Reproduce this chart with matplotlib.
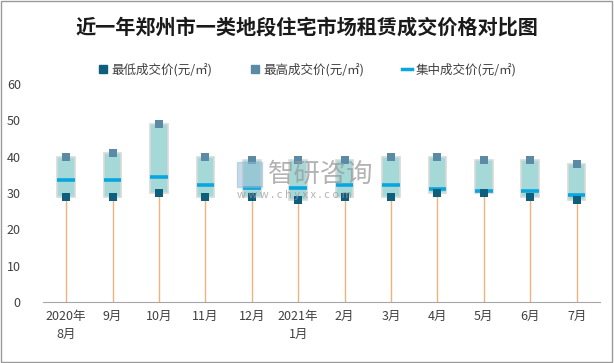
import matplotlib.pyplot as plt
import matplotlib.patches as mpatches
from matplotlib.lines import Line2D
import numpy as np

plt.rcParams['font.family'] = ['Noto Sans CJK SC', 'DejaVu Sans']

# 数据
months = ['2020年\n8月', '9月', '10月', '11月', '12月', '2021年\n1月',
          '2月', '3月', '4月', '5月', '6月', '7月']
low = [29, 29, 30, 29, 29, 28, 29, 29, 30, 30, 29, 28]
high = [40, 41, 49, 40, 39, 39, 39, 40, 40, 39, 39, 38]
mid = [33.5, 33.5, 34.3, 32.3, 31.3, 31.3, 32.3, 32.3, 31.2, 30.4, 30.4, 29.4]

c_low = '#0e5f7e'
c_high = '#5a8aa6'
c_mid = '#0aa6df'
c_box = '#a5d9d8'
c_stem = '#f2b27c'

fig = plt.figure(figsize=(6.14, 3.63), dpi=100)
ax = fig.add_axes([0.070, 0.168, 0.907, 0.601])

x = np.arange(len(months))
w = 0.38
low = np.array(low)
high = np.array(high)

ax.vlines(x, 0, low, color=c_stem, lw=1.0, zorder=1)
ax.bar(x, high - low, bottom=low, width=w, color=c_box,
       edgecolor='#d9d9d9', linewidth=1.2, zorder=2)
ax.hlines(mid, x - w / 2, x + w / 2, color=c_mid, lw=2.6, zorder=3)
ax.scatter(x, high, marker='s', s=30, color=c_high, zorder=4, linewidths=0)
ax.scatter(x, low, marker='s', s=30, color=c_low, zorder=4, linewidths=0)

ax.set_xlim(-0.5, len(months) - 0.5)
ax.set_ylim(0, 60)
ax.set_yticks(range(0, 61, 10))
ax.set_xticks(x)
ax.set_xticklabels(months, fontsize=9, color='#404040', linespacing=1.5)
ax.tick_params(axis='y', labelsize=9, labelcolor='#404040', length=0, pad=16)
ax.tick_params(axis='x', length=0, pad=6)
for s in ['top', 'right', 'left']:
    ax.spines[s].set_visible(False)
ax.spines['bottom'].set_color('#a6a6a6')

fig.text(0.5, 1 - 27 / 363, '近一年郑州市一类地段住宅市场租赁成交价格对比图',
         ha='center', va='center', fontsize=14.5, fontweight='bold', color='#1a1a1a')

handles = [
    Line2D([], [], marker='s', ls='none', color=c_low, markersize=6),
    Line2D([], [], marker='s', ls='none', color=c_high, markersize=6),
    Line2D([], [], color=c_mid, lw=2.5),
]
labels = ['最低成交价(元/㎡)', '最高成交价(元/㎡)', '集中成交价(元/㎡)']
fig.legend(handles, labels, loc='center', bbox_to_anchor=(0.5, 1 - 70 / 363),
           ncol=3, frameon=False, fontsize=9, handlelength=0.8,
           handletextpad=0.3, columnspacing=3.0, labelcolor='#404040')

# 水印
fig.text(268 / 614, 1 - 174 / 363, '智研咨询', fontsize=19, color='#9a9a9a',
         alpha=0.75, ha='left', va='center')
fig.text(237 / 614, 1 - 195 / 363, 'w w w . c h y x x . c o m', fontsize=8,
         color='#9a9a9a', alpha=0.75, ha='left', va='center')
fig.patches.append(mpatches.Rectangle((237 / 614, 1 - 187 / 363), 25 / 614, 25 / 363,
                                      transform=fig.transFigure, color='#8fb8d4',
                                      alpha=0.5, zorder=5))

fig.patches.append(mpatches.Rectangle((0.002, 0.003), 0.995, 0.994,
                                      transform=fig.transFigure, fill=False,
                                      edgecolor='#9a9a9a', lw=1.0))

fig.savefig('out.png', dpi=100)
